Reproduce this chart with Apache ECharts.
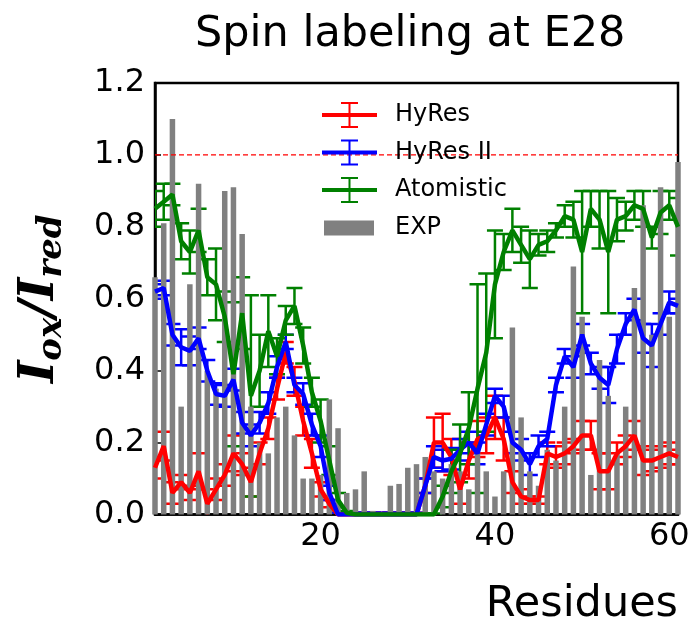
<!DOCTYPE html>
<html>
<head>
<meta charset="utf-8">
<script src="https://cdn.jsdelivr.net/npm/echarts@6/dist/echarts.min.js"></script>
<style>
  html, body { margin: 0; padding: 0; background: #fff; }
  #chart { width: 693px; height: 630px; }
</style>
</head>
<body>
<div id="chart"></div>
<script>
// residues 1..61
var residues = [];
for (var r = 1; r <= 61; r++) residues.push(r);

var xTicks = [20, 40, 60];
var refLevel = 1.0;

// experimental bars
var expVals = [0.66, 0.81, 1.10, 0.30, 0.64, 0.92, 0.40, 0.35, 0.90, 0.91,
  0.78, 0.30, 0.20, 0.17, 0.27, 0.30, 0.22, 0.10, 0.10, 0.11,
  0.32, 0.24, 0.06, 0.07, 0.12, 0.01, 0.00, 0.08, 0.085, 0.13,
  0.14, 0.16, 0.12, 0.10, 0.14, 0.12, 0.07, 0.18, 0.12, 0.05,
  0.12, 0.52, 0.27, 0.12, 0.08, 0.18, 0.15, 0.30, 0.69, 0.55,
  0.11, 0.43, 0.33, 0.17, 0.30, 0.63, 0.86, 0.50, 0.91, 0.55, 0.98];

// HyRes
var hyresVals = [0.13, 0.19, 0.06, 0.09, 0.06, 0.12, 0.03, 0.07, 0.11, 0.17,
  0.14, 0.09, 0.17, 0.24, 0.35, 0.45, 0.37, 0.26, 0.17, 0.07,
  0.03, 0, 0, 0, 0, 0, 0, 0, 0, 0,
  0, 0.08, 0.20, 0.20, 0.16, 0.07, 0.15, 0.21, 0.22, 0.27,
  0.21, 0.09, 0.05, 0.04, 0.04, 0.17, 0.16, 0.17, 0.19, 0.22,
  0.22, 0.12, 0.12, 0.17, 0.19, 0.22, 0.15, 0.15, 0.16, 0.17, 0.16];
var hyresErr = [0.03, 0.04, 0.03, 0.02, 0.02, 0.05, 0.04, 0.03, 0.03, 0.05,
  0.03, 0.04, 0.03, 0.03, 0.03, 0.03, 0.04, 0.04, 0.04, 0.02,
  0.01, 0.005, 0.005, 0.005, 0.005, 0.005, 0.005, 0.005, 0.005, 0.005,
  0.005, 0.02, 0.07, 0.08, 0.05, 0.04, 0.05, 0.05, 0.05, 0.06,
  0.06, 0.03, 0.02, 0.01, 0.01, 0.03, 0.03, 0.03, 0.02, 0.04,
  0.04, 0.05, 0.05, 0.03, 0.03, 0.04, 0.04, 0.03, 0.03, 0.03, 0.02];

// HyRes II
var hyres2Vals = [0.62, 0.63, 0.50, 0.465, 0.455, 0.49, 0.40, 0.335, 0.33, 0.375,
  0.255, 0.22, 0.255, 0.31, 0.41, 0.48, 0.36, 0.335, 0.25, 0.19,
  0.06, 0, 0, 0, 0, 0, 0, 0, 0, 0,
  0, 0.08, 0.16, 0.15, 0.155, 0.18, 0.20, 0.17, 0.25, 0.33,
  0.30, 0.20, 0.18, 0.14, 0.19, 0.21, 0.36, 0.44, 0.41, 0.50,
  0.42, 0.38, 0.36, 0.46, 0.53, 0.57, 0.49, 0.47, 0.53, 0.59, 0.58];
var hyres2Err = [0.02, 0.02, 0.03, 0.05, 0.04, 0.03, 0.03, 0.03, 0.03, 0.03,
  0.03, 0.03, 0.03, 0.03, 0.03, 0.02, 0.02, 0.03, 0.03, 0.03,
  0.02, 0.005, 0.005, 0.005, 0.005, 0.005, 0.005, 0.005, 0.005, 0.005,
  0.005, 0.02, 0.03, 0.03, 0.03, 0.03, 0.03, 0.03, 0.03, 0.02,
  0.03, 0.03, 0.03, 0.03, 0.03, 0.02, 0.02, 0.02, 0.03, 0.03,
  0.03, 0.03, 0.05, 0.04, 0.03, 0.03, 0.04, 0.06, 0.03, 0.03, 0.02];

// Atomistic
var atomVals = [0.85, 0.87, 0.89, 0.76, 0.73, 0.79, 0.66, 0.64, 0.55, 0.39,
  0.56, 0.33, 0.40, 0.51, 0.44, 0.54, 0.58, 0.47, 0.34, 0.26,
  0.15, 0.04, 0.005, 0, 0, 0, 0, 0, 0, 0,
  0, 0, 0, 0.05, 0.12, 0.17, 0.24, 0.35, 0.45, 0.64,
  0.73, 0.79, 0.75, 0.71, 0.75, 0.76, 0.79, 0.83, 0.82, 0.73,
  0.85, 0.82, 0.73, 0.82, 0.83, 0.86, 0.85, 0.77, 0.84, 0.86, 0.80];
var atomErr = [0.05, 0.05, 0.03, 0.05, 0.06, 0.06, 0.05, 0.10, 0.07, 0.20,
  0.10, 0.28, 0.10, 0.10, 0.05, 0.04, 0.05, 0.05, 0.04, 0.06,
  0.04, 0.02, 0.005, 0.003, 0.003, 0.003, 0.003, 0.003, 0.003, 0.003,
  0.003, 0.003, 0.003, 0.03, 0.06, 0.08, 0.10, 0.29, 0.22, 0.15,
  0.05, 0.06, 0.05, 0.08, 0.03, 0.03, 0.02, 0.03, 0.05, 0.17,
  0.05, 0.08, 0.17, 0.06, 0.04, 0.04, 0.05, 0.03, 0.06, 0.04, 0.08];

function pairs(vals) {
  return residues.map(function (r, i) { return [r, vals[i]]; });
}

function lineSeries(name, vals, color) {
  return {
    name: name, type: 'line', data: pairs(vals),
    symbol: 'none', showSymbol: false,
    lineStyle: { color: color, width: 4.5 },
    itemStyle: { color: color }
  };
}

// error bars with caps
function errSeries(name, vals, errs, color) {
  return {
    name: name, type: 'custom', clip: true,
    encode: { x: 0, y: 1 },
    data: residues.map(function (r, i) { return [r, vals[i], errs[i]]; }),
    renderItem: function (params, api) {
      var x = api.value(0), y = api.value(1), e = api.value(2);
      var top = api.coord([x, y + e]);
      var bot = api.coord([x, y - e]);
      var w = 8;
      var st = { stroke: color, lineWidth: 2.5 };
      return {
        type: 'group',
        children: [
          { type: 'line', shape: { x1: top[0], y1: top[1], x2: bot[0], y2: bot[1] }, style: st },
          { type: 'line', shape: { x1: top[0] - w, y1: top[1], x2: top[0] + w, y2: top[1] }, style: st },
          { type: 'line', shape: { x1: bot[0] - w, y1: bot[1], x2: bot[0] + w, y2: bot[1] }, style: st }
        ]
      };
    }
  };
}

var errIcon = 'path://M0 11L55 11L55 15L0 15Z M26.5 1L28.5 1L28.5 25L26.5 25Z M19 0L36 0L36 2L19 2Z M19 24L36 24L36 26L19 26Z';
var legendText = { fontSize: 24, fontFamily: 'DejaVu Sans', color: '#000', lineHeight: 26 };
var labelFont = { fontFamily: 'DejaVu Serif', fontStyle: 'italic', fontWeight: 'bold', color: '#000' };

var chart = echarts.init(document.getElementById('chart'));
var option = {
  animation: false,
  backgroundColor: '#fff',
  title: [
    { text: 'Spin labeling at E28', left: 190, top: 8,
      textStyle: { fontSize: 43, fontWeight: 'normal', fontFamily: 'DejaVu Sans', color: '#000' } },
    { text: 'Residues', right: 10, top: 578,
      textStyle: { fontSize: 43, fontWeight: 'normal', fontFamily: 'DejaVu Sans', color: '#000' } }
  ],
  legend: [
    { data: ['HyRes', 'HyRes II', 'Atomistic'], orient: 'vertical', left: 322, top: 102,
      padding: 0, itemWidth: 55, itemHeight: 26, itemGap: 11.5, icon: errIcon,
      selectedMode: false,
      textStyle: Object.assign({ padding: [0, 0, 0, 13] }, legendText) },
    { data: ['EXP'], orient: 'vertical', left: 324, top: 215,
      padding: 0, itemWidth: 50, itemHeight: 15, icon: 'rect', selectedMode: false,
      textStyle: Object.assign({ padding: [0, 0, 0, 16] }, legendText) }
  ],
  grid: { left: 155, right: 15, top: 83, bottom: 115.5, show: true,
    borderColor: '#000', borderWidth: 2.5, backgroundColor: 'transparent' },
  xAxis: {
    type: 'value', min: 1, max: 61,
    axisLine: { lineStyle: { color: '#000', width: 2.5 } },
    axisTick: { inside: true, length: 6, customValues: xTicks, lineStyle: { color: '#000', width: 1.5 } },
    axisLabel: { customValues: xTicks, fontSize: 32, fontFamily: 'DejaVu Sans', color: '#000', margin: 6 },
    splitLine: { show: false }
  },
  yAxis: {
    type: 'value', min: 0, max: 1.2, interval: 0.2,
    name: '{i|I}{s|ox}{i|/I}{s|red}',
    nameLocation: 'middle', nameGap: 90, nameRotate: 90,
    nameTextStyle: {
      rich: {
        i: Object.assign({ fontSize: 48, lineHeight: 48 }, labelFont),
        s: Object.assign({ fontSize: 34, lineHeight: 34, padding: [22, 0, 0, 0] }, labelFont)
      }
    },
    axisLine: { show: true, lineStyle: { color: '#000', width: 2.5 } },
    axisTick: { show: true, inside: true, length: 6, lineStyle: { color: '#000', width: 1.5 } },
    axisLabel: { fontSize: 32, fontFamily: 'DejaVu Sans', color: '#000', margin: 10,
      formatter: function (v) { return v.toFixed(1); } },
    splitLine: { show: false }
  },
  series: [
    { name: 'EXP', type: 'bar', data: pairs(expVals), barWidth: 5.5,
      itemStyle: { color: '#808080' } },
    { name: 'ref', type: 'line', symbol: 'none', silent: true,
      data: [[residues[0], refLevel], [residues[residues.length - 1], refLevel]],
      lineStyle: { color: '#ff0000', type: [5, 3], width: 1.2 } },
    lineSeries('HyRes', hyresVals, '#ff0000'),
    errSeries('HyRes err', hyresVals, hyresErr, '#ff0000'),
    lineSeries('HyRes II', hyres2Vals, '#0000ff'),
    errSeries('HyRes II err', hyres2Vals, hyres2Err, '#0000ff'),
    lineSeries('Atomistic', atomVals, '#008000'),
    errSeries('Atomistic err', atomVals, atomErr, '#008000')
  ]
};
chart.setOption(option);
</script>
</body>
</html>
